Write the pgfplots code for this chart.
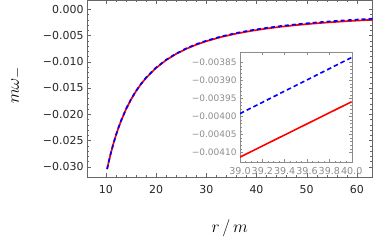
\documentclass[border=0pt]{standalone}
\usepackage{pgfplots}
\pgfplotsset{compat=1.18}
\usepackage{fontspec}
\usepackage{graphicx}
\newfontfamily\tickfont{DejaVu Sans}
\definecolor{framegray}{gray}{0.4}
\definecolor{insetgray}{gray}{0.55}
\begin{document}
\begin{tikzpicture}
\useasboundingbox (-87bp,-65bp) rectangle (287bp,177bp);
\begin{axis}[
  at={(0,0)}, anchor=south west,
  scale only axis, width=285.5bp, height=177bp,
  xmin=6.25, xmax=63.1, ymin=-0.03196, ymax=0.00177,
  axis line style={framegray},
  every tick/.style={framegray},
  tick align=inside,
  major tick length=4bp, minor tick length=2.2bp,
  xtick={10,20,30,40,50,60},
  xticklabels={10,20,30,40,50,60},
  ytick={-0.03,-0.025,-0.02,-0.015,-0.01,-0.005,0},
  yticklabels={−0.030,−0.025,−0.020,−0.015,−0.010,−0.005,0.000},
  minor x tick num=4, minor y tick num=4,
  scaled y ticks=false,
  tick label style={font=\tickfont\fontsize{11}{13}\selectfont, text=black!85},
  xticklabel style={yshift=-4.5bp},
  xlabel={$r\mkern3mu/\mkern3mu m$},
  xlabel style={font=\fontsize{19}{21}\selectfont, at={(axis description cs:0.5,-0.3124)}, anchor=base},
]
\addplot[red, line width=1.7bp] coordinates {
(10.25,-0.03047) (10.6,-0.02898) (11,-0.02741) (11.5,-0.02564) (12,-0.02406)
(12.5,-0.02263) (13,-0.02134) (14,-0.01909) (15,-0.01721) (16,-0.015625)
(17,-0.014267) (18,-0.01309) (20,-0.01118) (22,-0.009691) (24,-0.008505)
(26,-0.007543) (28,-0.006749) (30,-0.006086) (33,-0.005275) (36,-0.004630)
(39,-0.004106) (42,-0.003674) (45,-0.003313) (48,-0.003007) (51,-0.002746)
(54,-0.002520) (57,-0.002324) (60,-0.002152) (63.5,-0.001976)
};
\addplot[blue, line width=1.7bp, dash pattern=on 4bp off 3bp] coordinates {
(10.25,-0.03044) (10.6,-0.02895) (11,-0.02738) (11.5,-0.02560) (12,-0.02402)
(12.5,-0.02259) (13,-0.02130) (14,-0.01905) (15,-0.01716) (16,-0.015575)
(17,-0.014214) (18,-0.01303) (20,-0.01112) (22,-0.009623) (24,-0.008431)
(26,-0.007462) (28,-0.006662) (30,-0.005993) (33,-0.005173) (36,-0.004518)
(39,-0.003985) (42,-0.003544) (45,-0.003173) (48,-0.002858) (51,-0.002588)
(54,-0.002353) (57,-0.002147) (60,-0.001966) (63.5,-0.001779)
};
\end{axis}
\node[font=\fontsize{19}{21}\selectfont, anchor=center, inner sep=0pt] at (-70bp,91.5bp) {\rotatebox{90}{$m\omega_-$}};
\begin{axis}[
  at={(153bp,14.5bp)}, anchor=south west,
  scale only axis, width=111.7bp, height=110.8bp,
  axis background/.style={fill=white},
  xmin=39, xmax=40, ymin=-0.004128, ymax=-0.003820,
  axis line style={insetgray},
  every tick/.style={insetgray},
  tick align=inside,
  major tick length=3bp, minor tick length=1.6bp,
  xtick={39,39.2,39.4,39.6,39.8,40},
  xticklabels={39.0,39.2,39.4,39.6,39.8,40.0},
  ytick={-0.0041,-0.00405,-0.004,-0.00395,-0.0039,-0.00385},
  yticklabels={−0.00410,−0.00405,−0.00400,−0.00395,−0.00390,−0.00385},
  minor x tick num=3, minor y tick num=4,
  scaled y ticks=false, scaled x ticks=false,
  tick label style={font=\tickfont\fontsize{9}{11}\selectfont, text=insetgray},
  xticklabel style={inner xsep=0pt, yshift=-1bp, font=\tickfont\fontsize{9.6}{11}\selectfont},
]
\addplot[red, line width=1.6bp] coordinates {
(39,-0.004113) (39.5,-0.004036) (40,-0.003959)
};
\addplot[blue, line width=1.6bp, dash pattern=on 4.5bp off 3bp] coordinates {
(39,-0.003992) (39.5,-0.003914) (40,-0.003836)
};
\end{axis}
\end{tikzpicture}
\end{document}
